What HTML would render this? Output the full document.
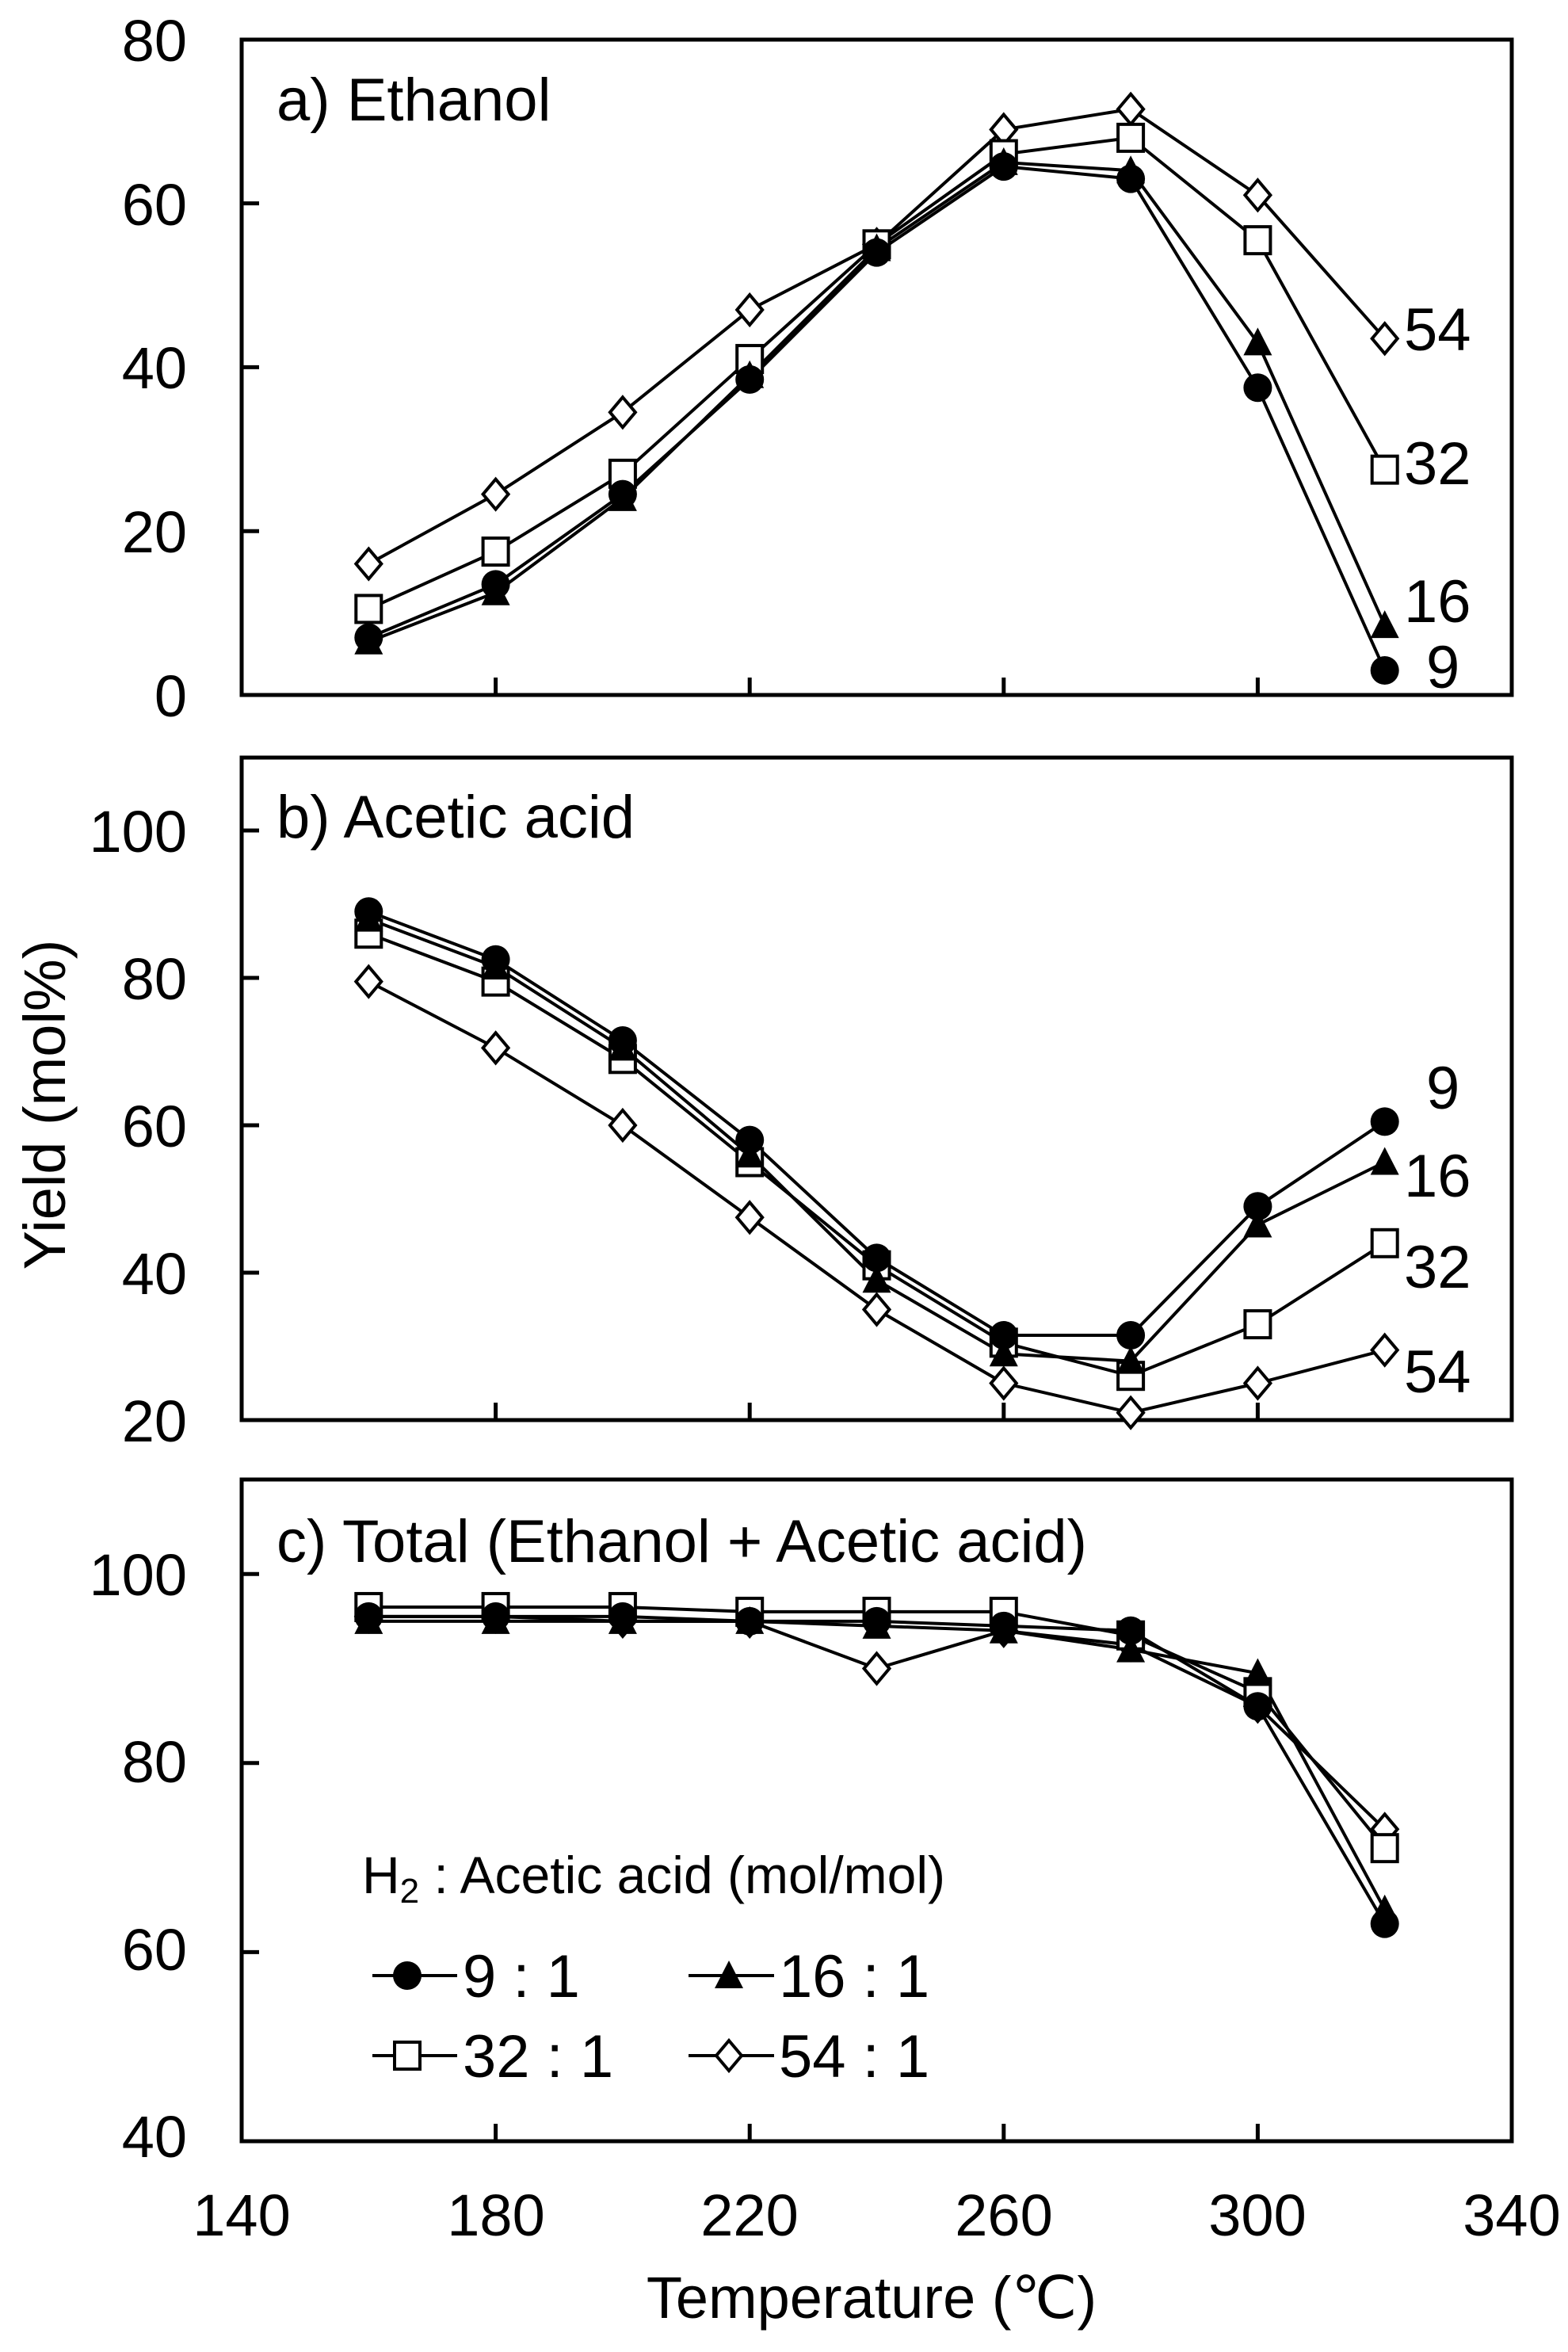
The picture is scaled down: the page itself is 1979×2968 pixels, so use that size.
<!DOCTYPE html>
<html><head><meta charset="utf-8"><style>
html,body{margin:0;padding:0;background:#fff;}
svg{display:block;font-family:"Liberation Sans",Arial,sans-serif;}
</style></head><body>
<svg id="s" width="1979" height="2968" viewBox="0 0 1979 2968" xmlns="http://www.w3.org/2000/svg">
<rect width="1979" height="2968" fill="#fff"/>
<g fill="none" stroke="#000" stroke-width="5">
<rect x="305" y="50" width="1603" height="827"/>
<rect x="305" y="956" width="1603" height="836"/>
<rect x="305" y="1867" width="1603" height="835"/>
</g>
<g id="ticks" stroke="#000" stroke-width="5"></g>
<g id="series"></g>
<g font-size="74" fill="#000" text-anchor="end">
<text x="236" y="77">80</text><text x="236" y="284">60</text><text x="236" y="490">40</text><text x="236" y="697">20</text><text x="236" y="904">0</text>
<text x="236" y="1075">100</text><text x="236" y="1261">80</text><text x="236" y="1447">60</text><text x="236" y="1633">40</text><text x="236" y="1819">20</text>
<text x="236" y="2013">100</text><text x="236" y="2249">80</text><text x="236" y="2486">60</text><text x="236" y="2722">40</text>
</g>
<g font-size="74" fill="#000" text-anchor="middle">
<text x="305" y="2821">140</text><text x="626" y="2821">180</text><text x="946" y="2821">220</text><text x="1267" y="2821">260</text><text x="1587" y="2821">300</text><text x="1908" y="2821">340</text>
<text x="1100" y="2925">Temperature (℃)</text>
<text transform="translate(82,1394) rotate(-90)">Yield (mol%)</text>
</g>
<g font-size="76" fill="#000">
<text x="349" y="152">a) Ethanol</text>
<text x="349" y="1057">b) Acetic acid</text>
<text x="349" y="1971">c) Total (Ethanol + Acetic acid)</text>
<text x="1772" y="442">54</text><text x="1772" y="611">32</text><text x="1772" y="785">16</text><text x="1800" y="868">9</text>
<text x="1800" y="1399">9</text><text x="1772" y="1510">16</text><text x="1772" y="1625">32</text><text x="1772" y="1757">54</text>
<text x="584" y="2520">9 : 1</text><text x="983" y="2520">16 : 1</text>
<text x="584" y="2621">32 : 1</text><text x="983" y="2621">54 : 1</text>
</g>
<text x="457" y="2389" font-size="66" fill="#000">H<tspan font-size="44" dy="12">2</tspan><tspan dy="-12"> : Acetic acid (mol/mol)</tspan></text>
</svg>
<script>
(function(){
var NS="http://www.w3.org/2000/svg";
function X(t){return 305+(t-140)*8.015;}
var panels=[
 {f:function(v){return 877-v*10.34;},top:50,bot:877,d:[
  [7,13.5,24.5,38.5,54,64.5,63,37.5,3],
  [6.5,12.5,24,39,54.5,65,64,43,8.5],
  [10.5,17.5,27,41,55,66,68,55.5,27.5],
  [16,24.5,34.5,47,55,69,71.5,61,43.5]],yt:[20,40,60]},
 {f:function(v){return 1048-(v-100)*9.3;},top:956,bot:1792,d:[
  [89,82.5,71.5,58,42,31.5,31.5,49,60.5],
  [88,81.5,70.5,56,39,29,28,46.5,55],
  [86,79.5,69,55,41,30.5,26,33,44],
  [79.5,70.5,60,47.5,35,25,21,25,29.5]],yt:[40,60,80,100]},
 {f:function(v){return 2702-(v-40)*11.93;},top:1867,bot:2702,d:[
  [95.5,95.5,95.5,95,95,94.5,94,86,63],
  [95,95,95,95,94.5,94,92,89.5,64.5],
  [96.5,96.5,96.5,96,96,96,93.5,87.5,71],
  [95.5,95.5,95,95,90,94,92.5,86,73]],yt:[60,80,100]}
];
var tk=document.getElementById('ticks'),sg=document.getElementById('series');
function el(n,a,p){var e=document.createElementNS(NS,n);for(var k in a)e.setAttribute(k,a[k]);(p||sg).appendChild(e);return e;}
function marker(k,x,y){
 if(k==0) el('circle',{cx:x,cy:y,r:18,fill:'#000'});
 else if(k==1) el('polygon',{points:(x-18)+','+(y+16)+' '+(x+18)+','+(y+16)+' '+x+','+(y-19),fill:'#000'});
 else if(k==2) el('rect',{x:x-16,y:y-17,width:32,height:34,fill:'#fff',stroke:'#000','stroke-width':4});
 else el('polygon',{points:x+','+(y-19)+' '+(x+16)+','+y+' '+x+','+(y+19)+' '+(x-16)+','+y,fill:'#fff',stroke:'#000','stroke-width':4});
}
panels.forEach(function(p){
 [180,220,260,300].forEach(function(t){el('line',{x1:X(t),x2:X(t),y1:p.bot,y2:p.bot-22},tk);});
 p.yt.forEach(function(v){var y=p.f(v);el('line',{x1:305,x2:327,y1:y,y2:y},tk);});
 p.d.forEach(function(s,k){
  var pts=s.map(function(v,i){return X(160+20*i)+','+p.f(v);}).join(' ');
  el('polyline',{points:pts,fill:'none',stroke:'#000','stroke-width':4,'stroke-linejoin':'round'});
 });
 for(var k=3;k>=0;k--){p.d[k].forEach(function(v,i){marker(k,X(160+20*i),p.f(v));});}
});
[[470,577,514,2493,0],[869,977,920,2493,1],[470,577,514,2594,2],[869,977,920,2594,3]].forEach(function(l){
 el('line',{x1:l[0],x2:l[1],y1:l[3],y2:l[3],stroke:'#000','stroke-width':4});
 marker(l[4],l[2],l[3]);
});
})();
</script>
</body></html>
